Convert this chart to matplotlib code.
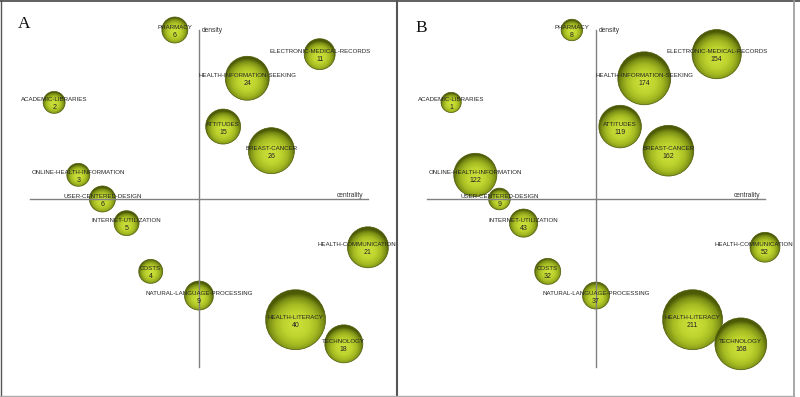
import matplotlib
matplotlib.use("Agg")
import matplotlib.pyplot as plt
import numpy as np
from matplotlib.colors import LinearSegmentedColormap
from matplotlib.patches import Circle
from matplotlib.lines import Line2D

# keywords with their centrality rank (x) and density rank (y)
terms = [
    "PHARMACY", "ELECTRONIC-MEDICAL-RECORDS", "HEALTH-INFORMATION-SEEKING",
    "ACADEMIC-LIBRARIES", "ATTITUDES", "BREAST-CANCER",
    "ONLINE-HEALTH-INFORMATION", "USER-CENTERED-DESIGN", "INTERNET-UTILIZATION",
    "HEALTH-COMMUNICATION", "COSTS", "NATURAL-LANGUAGE-PROCESSING",
    "HEALTH-LITERACY", "TECHNOLOGY",
]
centrality_rank = [6, 12, 9, 1, 8, 10, 2, 3, 4, 14, 5, 7, 11, 13]
density_rank = [14, 13, 12, 11, 10, 9, 8, 7, 6, 5, 4, 3, 2, 1]
docs_a = [6, 11, 24, 2, 15, 26, 3, 6, 5, 21, 4, 9, 40, 18]
citations_b = [8, 154, 174, 1, 119, 162, 122, 9, 43, 52, 32, 37, 211, 168]
panel_letters = ["A", "B"]

W, H = 800, 397
PX = 24.14          # pixels per rank step
R_MIN, R_MAX = 10, 30  # bubble radius range in pixels

fig = plt.figure(figsize=(W / 100, H / 100), dpi=100)
fig.patch.set_facecolor("white")

cmap = LinearSegmentedColormap.from_list(
    "ball", [(0, "#cfe23e"), (0.4, "#bed42e"), (0.65, "#a4ba22"),
             (0.85, "#7e9116"), (1, "#4c5a06")])
g = np.linspace(-1, 1, 121)
gx, gy = np.meshgrid(g, g)
grad = np.clip(np.hypot(gx, gy + 0.15) / 1.05, 0, 1)

labels = []


def draw_panel(left_px, counts, letter, letter_y):
    ax = fig.add_axes([left_px / W, 0, 397 / W, 1])
    ax.axis("off")
    vmax = max(counts)
    for name, cx, cy, v in zip(terms, centrality_rank, density_rank, counts):
        r = (R_MIN + (R_MAX - R_MIN) * v / vmax) / PX
        im = ax.imshow(grad, extent=[cx - r, cx + r, cy - r, cy + r],
                       cmap=cmap, vmin=0, vmax=1, origin="lower",
                       interpolation="bilinear", zorder=2)
        circ = Circle((cx, cy), r, fc="none", ec="#4c5a06", lw=0.5, zorder=2.1)
        ax.add_patch(circ)
        im.set_clip_path(circ)
        t = ax.text(cx, cy + 2.5 / PX, name, ha="center", va="center",
                    family="Liberation Sans", fontsize=4.45, color="#222222",
                    zorder=5)
        labels.append((ax, t))
        ax.text(cx, cy - 5.5 / PX, str(v), ha="center", va="center",
                family="Liberation Sans", fontsize=5.0, color="#222222",
                zorder=5)
    # quadrant axes
    ax.plot([0, 14], [7, 7], color="#808080", lw=1.0, zorder=3)
    ax.plot([7, 7], [0.05, 14], color="#808080", lw=1.0, zorder=3)
    ax.text(7 + 3 / PX, 14, "density", ha="left", va="center",
            family="Liberation Sans", fontsize=4.8, color="#333333")
    ax.text(13.8, 7 + 3 / PX, "centrality", ha="right", va="center",
            family="Liberation Sans", fontsize=4.8, color="#333333")
    ax.text(18 / 397, letter_y, letter, transform=ax.transAxes,
            family="Liberation Serif", fontsize=12.5, ha="left", va="center",
            color="#111111")
    ax.set_aspect("auto")
    ax.set_xlim(-30 / PX, (397 - 30) / PX)
    ax.set_ylim(14 - 367 / PX, 14 + 30 / PX)


draw_panel(0, docs_a, panel_letters[0], 1 - 24 / 397)
draw_panel(397, citations_b, panel_letters[1], 1 - 28 / 397)

# keep labels inside their panel, as the original layout does
fig.canvas.draw()
renderer = fig.canvas.get_renderer()
for ax, t in labels:
    bb = t.get_window_extent(renderer)
    limit = ax.get_window_extent(renderer).x1 - 1
    if bb.x1 > limit:
        x, y = t.get_position()
        t.set_x(x - (bb.x1 - limit) / PX)

# outer frame
fig.add_artist(Line2D([0, 1], [1 - 0.6 / H, 1 - 0.6 / H], color="#444444", lw=1.2))
fig.add_artist(Line2D([0.8 / W, 0.8 / W], [0, 1], color="#555555", lw=1.0))
fig.add_artist(Line2D([397 / W, 397 / W], [0, 1], color="#555555", lw=1.5))
fig.add_artist(Line2D([793.5 / W, 793.5 / W], [0, 1], color="#999999", lw=1.2))
fig.add_artist(Line2D([0, 794 / W], [1.2 / H, 1.2 / H], color="#aaaaaa", lw=1.0))

fig.savefig("out.png", dpi=100)
